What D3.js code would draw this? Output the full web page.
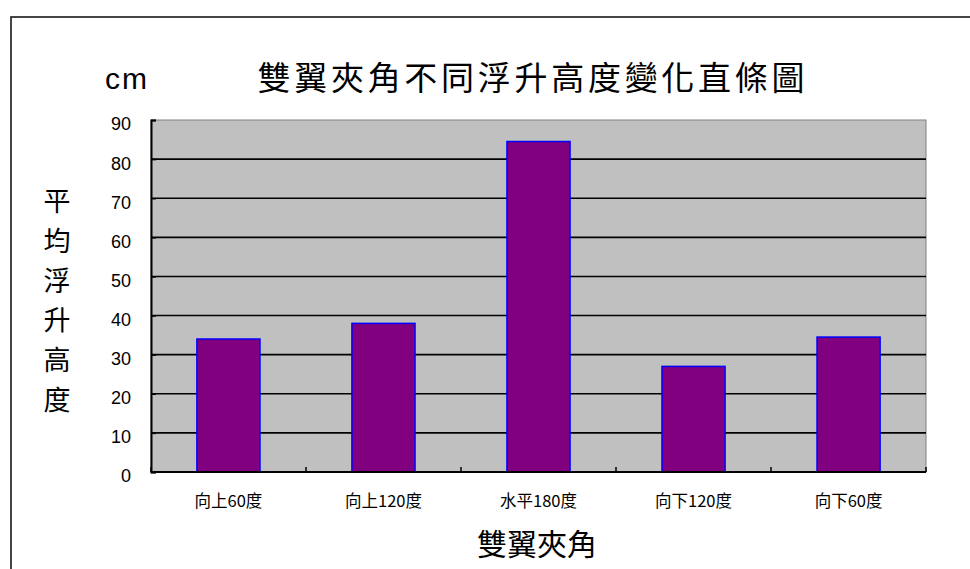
<!DOCTYPE html>
<html>
<head>
<meta charset="utf-8">
<script src="https://cdn.jsdelivr.net/npm/d3@7"></script>
<style>
  html, body { margin: 0; padding: 0; background: #fff; }
  svg { display: block; }
  text { font-family: "Noto Sans CJK TC", "Noto Sans", sans-serif; fill: #000; }
</style>
</head>
<body>
<svg id="chart" width="970" height="569"></svg>
<script>
// Average lift height (cm) for each wing angle
const categories = ["向上60度", "向上120度", "水平180度", "向下120度", "向下60度"];
const heights = [34, 38, 84.5, 27, 34.5];
const yTicks = [0, 10, 20, 30, 40, 50, 60, 70, 80, 90];

const chartTitle = "雙翼夾角不同浮升高度變化直條圖";
const unitLabel = "cm";
const yTitle = "平均浮升高度";
const xTitle = "雙翼夾角";

const svg = d3.select("#chart");
const plot = { left: 151, top: 120, right: 926, bottom: 472 };

// Outer chart frame (extends past the page edges)
svg.append("rect")
  .attr("x", 11).attr("y", 17)
  .attr("width", 1000).attr("height", 600)
  .attr("fill", "none").attr("stroke", "#1a1a1a").attr("stroke-width", 1.6);

const x = d3.scaleBand()
  .domain(categories)
  .range([plot.left, plot.right])
  .paddingInner(0.593).paddingOuter(0.296);

const y = d3.scaleLinear()
  .domain([0, 90])
  .range([plot.bottom, plot.top]);

// Plot background
svg.append("rect")
  .attr("x", plot.left).attr("y", plot.top)
  .attr("width", plot.right - plot.left).attr("height", plot.bottom - plot.top)
  .attr("fill", "#c0c0c0").attr("stroke", "#808080").attr("stroke-width", 1);

// Horizontal gridlines
svg.append("g")
  .selectAll("line")
  .data(yTicks.filter(d => d > 0 && d < 90))
  .join("line")
  .attr("x1", plot.left).attr("x2", plot.right)
  .attr("y1", d => y(d)).attr("y2", d => y(d))
  .attr("stroke", "#000").attr("stroke-width", 1.6);

// Bars
svg.append("g")
  .selectAll("rect")
  .data(heights)
  .join("rect")
  .attr("x", (d, i) => x(categories[i]))
  .attr("y", d => y(d))
  .attr("width", x.bandwidth())
  .attr("height", d => y(0) - y(d))
  .attr("fill", "#800080")
  .attr("stroke", "#0000ff").attr("stroke-width", 1.5);

// Y axis: inward ticks, labels on the left
const yAxis = d3.axisLeft(y).tickValues(yTicks).tickSize(-5).tickPadding(20);
const gy = svg.append("g").attr("transform", `translate(${plot.left},0)`).call(yAxis);
gy.select(".domain").attr("stroke", "#000").attr("stroke-width", 2);
gy.selectAll(".tick line").attr("stroke", "#000").attr("stroke-width", 1.5);
gy.selectAll(".tick text")
  .attr("font-size", 18).attr("dy", "0.55em")
  .style("font-family", "'Liberation Sans', sans-serif")
  .attr("fill", "#000");

// X axis: boundary ticks between categories pointing up
const boundaries = d3.range(categories.length + 1).map(i => plot.left + i * (plot.right - plot.left) / categories.length);
svg.append("line")
  .attr("x1", plot.left).attr("x2", plot.right)
  .attr("y1", plot.bottom).attr("y2", plot.bottom)
  .attr("stroke", "#000").attr("stroke-width", 2);
svg.append("g").selectAll("line")
  .data(boundaries)
  .join("line")
  .attr("x1", d => d).attr("x2", d => d)
  .attr("y1", plot.bottom).attr("y2", plot.bottom - 5)
  .attr("stroke", "#000").attr("stroke-width", 1.5);

svg.append("g").selectAll("text")
  .data(categories)
  .join("text")
  .attr("x", d => x(d) + x.bandwidth() / 2)
  .attr("y", 507)
  .attr("text-anchor", "middle")
  .attr("font-size", 16.5)
  .text(d => d);

// Titles
svg.append("text")
  .attr("x", 531).attr("y", 90)
  .attr("text-anchor", "middle")
  .attr("font-size", 33)
  .attr("textLength", 547).attr("lengthAdjust", "spacing")
  .text(chartTitle);

svg.append("text")
  .attr("x", 127).attr("y", 89)
  .attr("text-anchor", "middle")
  .attr("font-size", 30)
  .attr("letter-spacing", 2)
  .style("font-family", "'Liberation Sans', sans-serif")
  .text(unitLabel);

svg.append("g").selectAll("text")
  .data(Array.from(yTitle))
  .join("text")
  .attr("x", 57)
  .attr("y", (d, i) => 211 + i * 39.8)
  .attr("text-anchor", "middle")
  .attr("font-size", 27)
  .text(d => d);

svg.append("text")
  .attr("x", 537).attr("y", 555)
  .attr("text-anchor", "middle")
  .attr("font-size", 30)
  .text(xTitle);
</script>
</body>
</html>
